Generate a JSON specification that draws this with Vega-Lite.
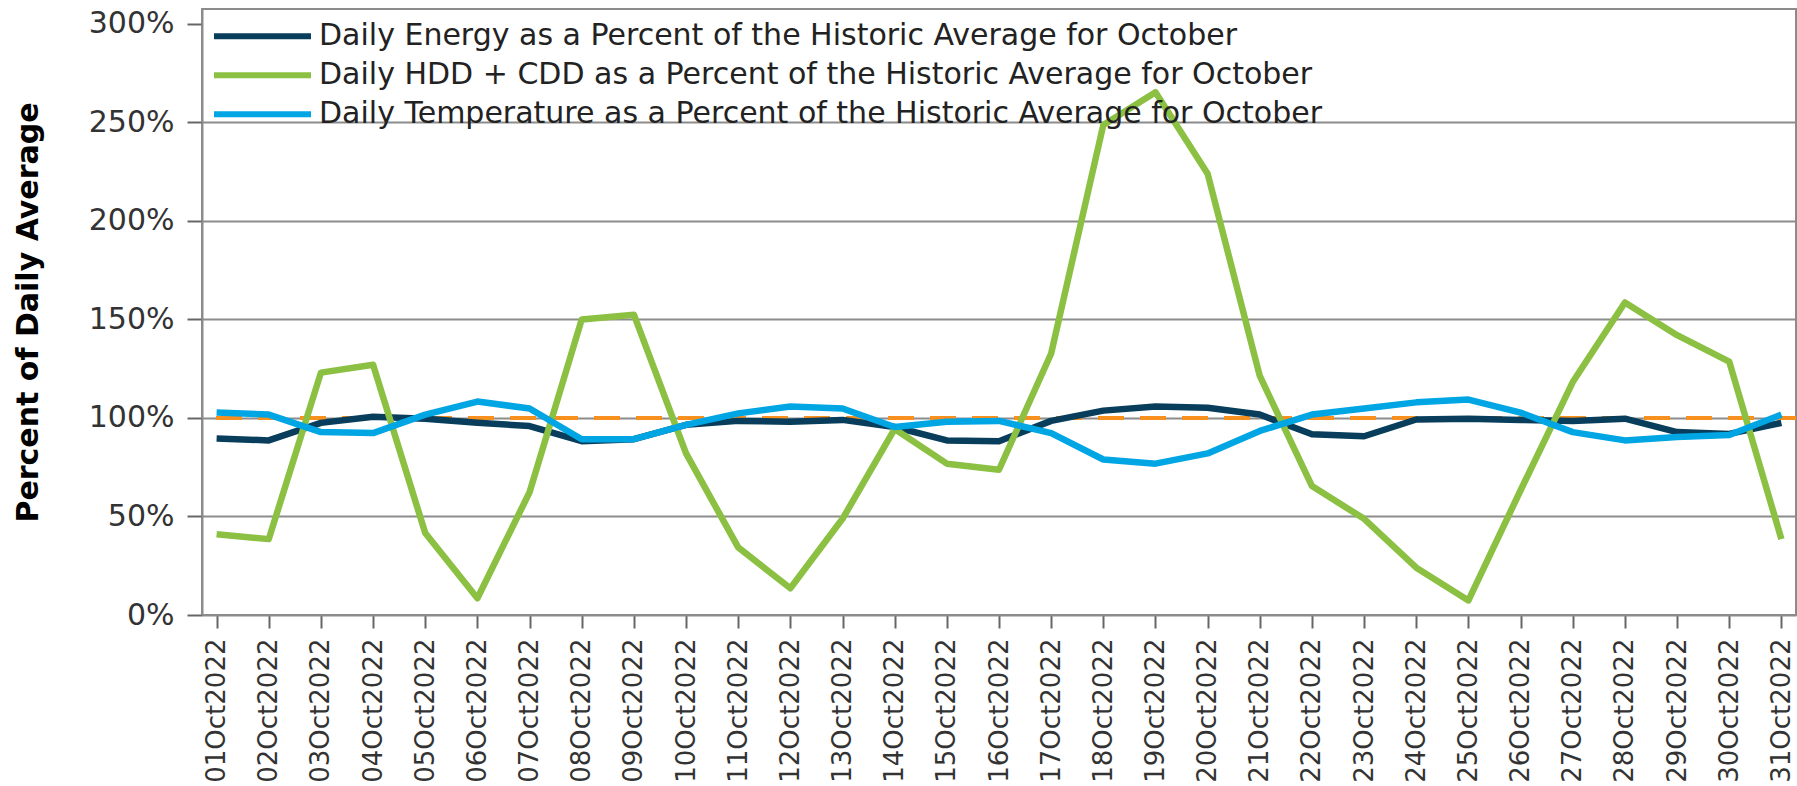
{
  "$schema": "https://vega.github.io/schema/vega-lite/v6.json",
  "autosize": {"type": "none"},
  "width": 1594,
  "height": 606,
  "padding": {"left": 202, "top": 9, "right": 1, "bottom": 171},
  "background": "white",
  "config": {
    "font": "DejaVu Sans",
    "view": {"stroke": "#8c8c8c", "strokeWidth": 2},
    "axis": {
      "labelFont": "DejaVu Sans",
      "labelColor": "#333333",
      "domainColor": "#8c8c8c",
      "domainWidth": 2,
      "tickColor": "#666666",
      "tickWidth": 2
    }
  },
  "data": {
    "values": [
      {"day": "01Oct2022", "series": "Daily Energy as a Percent of the Historic Average for October", "value": 89.6},
      {"day": "02Oct2022", "series": "Daily Energy as a Percent of the Historic Average for October", "value": 88.6},
      {"day": "03Oct2022", "series": "Daily Energy as a Percent of the Historic Average for October", "value": 97.5},
      {"day": "04Oct2022", "series": "Daily Energy as a Percent of the Historic Average for October", "value": 100.6},
      {"day": "05Oct2022", "series": "Daily Energy as a Percent of the Historic Average for October", "value": 99.6},
      {"day": "06Oct2022", "series": "Daily Energy as a Percent of the Historic Average for October", "value": 97.5},
      {"day": "07Oct2022", "series": "Daily Energy as a Percent of the Historic Average for October", "value": 95.9},
      {"day": "08Oct2022", "series": "Daily Energy as a Percent of the Historic Average for October", "value": 88.2},
      {"day": "09Oct2022", "series": "Daily Energy as a Percent of the Historic Average for October", "value": 89.2},
      {"day": "10Oct2022", "series": "Daily Energy as a Percent of the Historic Average for October", "value": 96.5},
      {"day": "11Oct2022", "series": "Daily Energy as a Percent of the Historic Average for October", "value": 98.5},
      {"day": "12Oct2022", "series": "Daily Energy as a Percent of the Historic Average for October", "value": 98.1},
      {"day": "13Oct2022", "series": "Daily Energy as a Percent of the Historic Average for October", "value": 99.0},
      {"day": "14Oct2022", "series": "Daily Energy as a Percent of the Historic Average for October", "value": 95.4},
      {"day": "15Oct2022", "series": "Daily Energy as a Percent of the Historic Average for October", "value": 88.6},
      {"day": "16Oct2022", "series": "Daily Energy as a Percent of the Historic Average for October", "value": 88.2},
      {"day": "17Oct2022", "series": "Daily Energy as a Percent of the Historic Average for October", "value": 98.5},
      {"day": "18Oct2022", "series": "Daily Energy as a Percent of the Historic Average for October", "value": 103.7},
      {"day": "19Oct2022", "series": "Daily Energy as a Percent of the Historic Average for October", "value": 105.8},
      {"day": "20Oct2022", "series": "Daily Energy as a Percent of the Historic Average for October", "value": 105.2},
      {"day": "21Oct2022", "series": "Daily Energy as a Percent of the Historic Average for October", "value": 101.7},
      {"day": "22Oct2022", "series": "Daily Energy as a Percent of the Historic Average for October", "value": 91.7},
      {"day": "23Oct2022", "series": "Daily Energy as a Percent of the Historic Average for October", "value": 90.7},
      {"day": "24Oct2022", "series": "Daily Energy as a Percent of the Historic Average for October", "value": 99.2},
      {"day": "25Oct2022", "series": "Daily Energy as a Percent of the Historic Average for October", "value": 99.6},
      {"day": "26Oct2022", "series": "Daily Energy as a Percent of the Historic Average for October", "value": 99.0},
      {"day": "27Oct2022", "series": "Daily Energy as a Percent of the Historic Average for October", "value": 98.5},
      {"day": "28Oct2022", "series": "Daily Energy as a Percent of the Historic Average for October", "value": 99.6},
      {"day": "29Oct2022", "series": "Daily Energy as a Percent of the Historic Average for October", "value": 92.8},
      {"day": "30Oct2022", "series": "Daily Energy as a Percent of the Historic Average for October", "value": 91.9},
      {"day": "31Oct2022", "series": "Daily Energy as a Percent of the Historic Average for October", "value": 97.5},
      {"day": "01Oct2022", "series": "Daily HDD + CDD as a Percent of the Historic Average for October", "value": 41.0},
      {"day": "02Oct2022", "series": "Daily HDD + CDD as a Percent of the Historic Average for October", "value": 38.5},
      {"day": "03Oct2022", "series": "Daily HDD + CDD as a Percent of the Historic Average for October", "value": 123.0},
      {"day": "04Oct2022", "series": "Daily HDD + CDD as a Percent of the Historic Average for October", "value": 127.0},
      {"day": "05Oct2022", "series": "Daily HDD + CDD as a Percent of the Historic Average for October", "value": 41.6},
      {"day": "06Oct2022", "series": "Daily HDD + CDD as a Percent of the Historic Average for October", "value": 8.5},
      {"day": "07Oct2022", "series": "Daily HDD + CDD as a Percent of the Historic Average for October", "value": 62.3},
      {"day": "08Oct2022", "series": "Daily HDD + CDD as a Percent of the Historic Average for October", "value": 150.0},
      {"day": "09Oct2022", "series": "Daily HDD + CDD as a Percent of the Historic Average for October", "value": 152.4},
      {"day": "10Oct2022", "series": "Daily HDD + CDD as a Percent of the Historic Average for October", "value": 82.0},
      {"day": "11Oct2022", "series": "Daily HDD + CDD as a Percent of the Historic Average for October", "value": 34.3},
      {"day": "12Oct2022", "series": "Daily HDD + CDD as a Percent of the Historic Average for October", "value": 13.6},
      {"day": "13Oct2022", "series": "Daily HDD + CDD as a Percent of the Historic Average for October", "value": 48.8},
      {"day": "14Oct2022", "series": "Daily HDD + CDD as a Percent of the Historic Average for October", "value": 94.4},
      {"day": "15Oct2022", "series": "Daily HDD + CDD as a Percent of the Historic Average for October", "value": 76.8},
      {"day": "16Oct2022", "series": "Daily HDD + CDD as a Percent of the Historic Average for October", "value": 73.7},
      {"day": "17Oct2022", "series": "Daily HDD + CDD as a Percent of the Historic Average for October", "value": 132.7},
      {"day": "18Oct2022", "series": "Daily HDD + CDD as a Percent of the Historic Average for October", "value": 248.7},
      {"day": "19Oct2022", "series": "Daily HDD + CDD as a Percent of the Historic Average for October", "value": 265.3},
      {"day": "20Oct2022", "series": "Daily HDD + CDD as a Percent of the Historic Average for October", "value": 223.9},
      {"day": "21Oct2022", "series": "Daily HDD + CDD as a Percent of the Historic Average for October", "value": 121.3},
      {"day": "22Oct2022", "series": "Daily HDD + CDD as a Percent of the Historic Average for October", "value": 65.4},
      {"day": "23Oct2022", "series": "Daily HDD + CDD as a Percent of the Historic Average for October", "value": 48.8},
      {"day": "24Oct2022", "series": "Daily HDD + CDD as a Percent of the Historic Average for October", "value": 24.0},
      {"day": "25Oct2022", "series": "Daily HDD + CDD as a Percent of the Historic Average for October", "value": 7.4},
      {"day": "26Oct2022", "series": "Daily HDD + CDD as a Percent of the Historic Average for October", "value": 63.3},
      {"day": "27Oct2022", "series": "Daily HDD + CDD as a Percent of the Historic Average for October", "value": 118.2},
      {"day": "28Oct2022", "series": "Daily HDD + CDD as a Percent of the Historic Average for October", "value": 158.6},
      {"day": "29Oct2022", "series": "Daily HDD + CDD as a Percent of the Historic Average for October", "value": 142.0},
      {"day": "30Oct2022", "series": "Daily HDD + CDD as a Percent of the Historic Average for October", "value": 128.6},
      {"day": "31Oct2022", "series": "Daily HDD + CDD as a Percent of the Historic Average for October", "value": 38.5},
      {"day": "01Oct2022", "series": "Daily Temperature as a Percent of the Historic Average for October", "value": 102.7},
      {"day": "02Oct2022", "series": "Daily Temperature as a Percent of the Historic Average for October", "value": 101.7},
      {"day": "03Oct2022", "series": "Daily Temperature as a Percent of the Historic Average for October", "value": 92.8},
      {"day": "04Oct2022", "series": "Daily Temperature as a Percent of the Historic Average for October", "value": 92.3},
      {"day": "05Oct2022", "series": "Daily Temperature as a Percent of the Historic Average for October", "value": 101.7},
      {"day": "06Oct2022", "series": "Daily Temperature as a Percent of the Historic Average for October", "value": 108.3},
      {"day": "07Oct2022", "series": "Daily Temperature as a Percent of the Historic Average for October", "value": 104.8},
      {"day": "08Oct2022", "series": "Daily Temperature as a Percent of the Historic Average for October", "value": 89.2},
      {"day": "09Oct2022", "series": "Daily Temperature as a Percent of the Historic Average for October", "value": 89.2},
      {"day": "10Oct2022", "series": "Daily Temperature as a Percent of the Historic Average for October", "value": 96.5},
      {"day": "11Oct2022", "series": "Daily Temperature as a Percent of the Historic Average for October", "value": 102.3},
      {"day": "12Oct2022", "series": "Daily Temperature as a Percent of the Historic Average for October", "value": 105.8},
      {"day": "13Oct2022", "series": "Daily Temperature as a Percent of the Historic Average for October", "value": 104.8},
      {"day": "14Oct2022", "series": "Daily Temperature as a Percent of the Historic Average for October", "value": 95.4},
      {"day": "15Oct2022", "series": "Daily Temperature as a Percent of the Historic Average for October", "value": 98.1},
      {"day": "16Oct2022", "series": "Daily Temperature as a Percent of the Historic Average for October", "value": 98.5},
      {"day": "17Oct2022", "series": "Daily Temperature as a Percent of the Historic Average for October", "value": 92.3},
      {"day": "18Oct2022", "series": "Daily Temperature as a Percent of the Historic Average for October", "value": 78.9},
      {"day": "19Oct2022", "series": "Daily Temperature as a Percent of the Historic Average for October", "value": 76.8},
      {"day": "20Oct2022", "series": "Daily Temperature as a Percent of the Historic Average for October", "value": 82.0},
      {"day": "21Oct2022", "series": "Daily Temperature as a Percent of the Historic Average for October", "value": 93.4},
      {"day": "22Oct2022", "series": "Daily Temperature as a Percent of the Historic Average for October", "value": 101.7},
      {"day": "23Oct2022", "series": "Daily Temperature as a Percent of the Historic Average for October", "value": 104.8},
      {"day": "24Oct2022", "series": "Daily Temperature as a Percent of the Historic Average for October", "value": 107.9},
      {"day": "25Oct2022", "series": "Daily Temperature as a Percent of the Historic Average for October", "value": 109.3},
      {"day": "26Oct2022", "series": "Daily Temperature as a Percent of the Historic Average for October", "value": 102.7},
      {"day": "27Oct2022", "series": "Daily Temperature as a Percent of the Historic Average for October", "value": 92.8},
      {"day": "28Oct2022", "series": "Daily Temperature as a Percent of the Historic Average for October", "value": 88.6},
      {"day": "29Oct2022", "series": "Daily Temperature as a Percent of the Historic Average for October", "value": 90.3},
      {"day": "30Oct2022", "series": "Daily Temperature as a Percent of the Historic Average for October", "value": 91.3},
      {"day": "31Oct2022", "series": "Daily Temperature as a Percent of the Historic Average for October", "value": 101.7}
    ]
  },
  "layer": [
    {
      "mark": {"type": "rule", "color": "#F7901E", "strokeWidth": 3, "strokeDash": [26, 16]},
      "encoding": {"y": {"datum": 100, "type": "quantitative"}}
    },
    {
      "mark": {"type": "line", "strokeWidth": 6.5, "strokeJoin": "round"},
      "encoding": {
        "x": {
          "field": "day",
          "type": "ordinal",
          "sort": null,
          "scale": {"type": "point", "padding": 0.28},
          "axis": {
            "title": null,
            "labelAngle": -90,
            "labelFontSize": 26,
            "tickSize": 13,
            "labelPadding": 10,
            "grid": false
          }
        },
        "y": {
          "field": "value",
          "type": "quantitative",
          "scale": {"domain": [0, 307.5], "nice": false, "zero": true},
          "axis": {
            "title": "Percent of Daily Average",
            "titleFont": "DejaVu Sans",
            "titleFontSize": 30,
            "titleFontWeight": "bold",
            "titleColor": "#000000",
            "titlePadding": 45,
            "values": [0, 50, 100, 150, 200, 250, 300],
            "labelExpr": "datum.value + '%'",
            "labelFontSize": 30,
            "tickSize": 15,
            "labelPadding": 13,
            "grid": true,
            "gridColor": "#8c8c8c",
            "gridWidth": 2,
            "gridOpacity": {"condition": {"test": "datum.value >= 300 || datum.value <= 0", "value": 0}, "value": 1}
          }
        },
        "color": {
          "field": "series",
          "type": "nominal",
          "scale": {
            "domain": [
              "Daily Energy as a Percent of the Historic Average for October",
              "Daily HDD + CDD as a Percent of the Historic Average for October",
              "Daily Temperature as a Percent of the Historic Average for October"
            ],
            "range": ["#083D5B", "#8CC043", "#00A6E4"]
          },
          "legend": {
            "title": null,
            "orient": "none",
            "legendX": 9,
            "legendY": 8,
            "padding": 0,
            "symbolType": "stroke",
            "symbolSize": 9409,
            "symbolStrokeWidth": 6,
            "clipHeight": 38.5,
            "rowPadding": 0,
            "labelFont": "DejaVu Sans",
            "labelFontSize": 30,
            "labelColor": "#222222",
            "labelOffset": 5,
            "labelLimit": 0
          }
        }
      }
    }
  ]
}
